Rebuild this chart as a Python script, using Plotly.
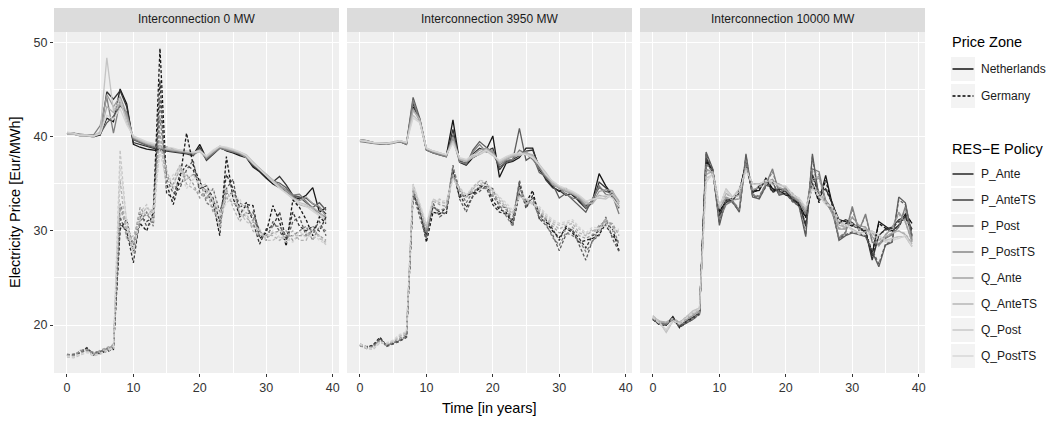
import plotly.graph_objects as go

# ---------------------------------------------------------------- data
years = list(range(0, 40))

facets = ["Interconnection 0 MW", "Interconnection 3950 MW", "Interconnection 10000 MW"]
zones = ["Netherlands", "Germany"]
policies = ["P_Ante", "P_AnteTS", "P_Post", "P_PostTS", "Q_Ante", "Q_AnteTS", "Q_Post", "Q_PostTS"]

# Interconnection 0 MW - Netherlands
nl0_p_ante = [40.4,40.4,40.2,40.2,40.1,40.2,42.0,41.6,45.1,43.5,39.2,38.9,38.7,38.6,38.5,38.9,38.7,38.5,38.3,38.1,39.2,37.7,38.3,38.9,38.5,38.3,38.0,37.8,36.8,36.3,35.6,35.0,34.6,34.2,33.6,33.4,33.8,34.6,32.0,32.5]
nl0_p_antets = [40.3,40.3,40.1,40.1,40.0,40.2,44.8,44.0,44.9,43.2,39.4,39.2,39.0,38.8,38.6,38.5,38.4,38.3,38.2,38.0,38.9,37.5,38.2,38.8,38.6,38.4,38.1,37.9,36.9,36.4,35.7,35.2,35.8,34.9,33.8,33.6,33.5,32.9,32.5,31.8]
nl0_p_post = [40.4,40.3,40.2,40.1,40.1,40.3,41.5,42.2,43.3,42.6,39.7,39.4,39.1,38.9,38.7,38.6,38.5,38.4,38.3,38.2,38.7,37.6,38.3,38.9,38.7,38.5,38.2,37.9,37.0,36.5,35.9,35.3,35.1,34.6,33.7,33.6,33.0,32.5,33.0,32.2]
nl0_p_postts = [40.4,40.4,40.3,40.2,40.2,41.2,44.2,40.4,43.8,42.1,39.8,39.5,39.2,39.0,38.8,38.6,38.5,38.4,38.3,38.1,38.5,37.7,38.3,38.8,38.6,38.4,38.2,37.8,37.1,36.6,36.0,35.4,34.8,34.4,33.8,33.9,33.2,32.4,31.9,31.4]
nl0_q_ante = [40.4,40.4,40.2,40.2,40.1,40.5,44.5,43.2,44.3,42.4,39.9,39.6,39.3,39.1,38.9,38.7,38.6,38.5,38.4,38.3,38.5,37.8,38.4,38.9,38.7,38.5,38.3,37.8,37.2,36.5,35.9,35.3,34.9,34.3,33.6,33.2,33.6,32.9,32.6,31.5]
nl0_q_antets = [40.4,40.3,40.1,40.1,40.0,40.4,43.2,42.6,43.6,42.0,40.0,39.6,39.3,39.1,38.9,38.7,38.6,38.5,38.4,38.3,38.6,37.9,38.5,39.0,38.8,38.6,38.3,38.0,37.3,36.7,36.0,35.3,34.7,34.1,33.5,32.8,32.6,32.5,32.0,31.2]
nl0_q_post = [40.3,40.3,40.1,40.1,40.0,40.6,48.4,42.8,44.0,41.5,40.0,39.7,39.4,39.2,39.0,38.8,38.7,38.6,38.5,38.3,38.4,37.9,38.5,39.0,38.8,38.6,38.4,38.1,37.3,36.6,36.0,35.4,34.6,34.0,33.5,33.0,32.8,32.3,31.7,31.0]
nl0_q_postts = [40.5,40.4,40.2,40.2,40.1,40.3,42.3,41.9,43.0,41.3,40.1,39.8,39.5,39.3,39.1,38.9,38.8,38.6,38.5,38.4,38.5,38.0,38.6,39.0,38.9,38.7,38.4,38.0,37.2,36.5,35.9,35.2,34.5,34.0,33.4,32.9,32.6,32.1,31.6,31.3]

# Interconnection 0 MW - Germany
de0_p_ante = [16.8,16.8,17.2,17.5,16.9,17.0,17.2,17.4,30.2,31.2,27.8,30.8,30.0,32.0,49.4,35.0,32.8,35.5,40.4,37.0,35.2,34.0,33.0,29.5,37.9,33.5,31.7,32.8,32.7,29.2,29.8,32.7,31.0,28.4,33.3,32.5,31.2,29.5,31.5,30.8]
de0_p_antets = [16.7,16.8,17.1,17.6,16.8,17.1,17.3,17.6,30.8,30.0,26.6,31.5,31.0,31.5,46.0,34.0,33.5,36.0,37.0,36.5,34.5,34.8,33.5,31.0,36.0,34.5,32.5,33.0,31.0,28.6,30.2,30.5,32.0,29.0,32.0,30.5,30.0,30.5,30.0,31.5]
de0_p_post = [16.8,16.9,17.0,17.4,17.0,17.2,17.4,17.8,31.5,29.5,28.0,32.0,30.5,31.0,44.0,35.5,34.0,34.5,36.5,37.5,34.0,33.5,34.5,32.0,34.5,35.5,31.5,31.8,32.0,30.0,29.0,31.0,30.0,28.8,31.0,31.5,29.5,30.0,31.0,29.5]
de0_p_postts = [16.9,16.8,17.2,17.3,17.1,17.2,17.5,17.7,32.9,30.8,28.5,31.0,32.0,30.5,42.0,36.0,34.5,35.0,35.5,36.0,35.5,33.0,32.5,30.5,34.0,34.0,33.0,32.5,31.5,29.5,29.5,30.5,30.5,29.5,29.5,30.0,30.5,29.0,30.5,30.0]
de0_q_ante = [16.8,16.7,17.3,17.4,16.9,17.3,17.6,17.9,32.5,30.2,28.8,32.5,31.5,32.5,40.5,34.5,35.0,36.5,36.0,35.0,33.5,34.5,32.0,31.5,33.5,33.0,32.5,31.5,30.5,30.0,29.2,29.8,30.0,30.0,29.0,29.5,29.5,30.0,29.5,29.0]
de0_q_antets = [16.7,16.6,16.9,17.2,16.8,17.0,17.4,17.7,35.5,29.0,29.5,31.5,32.5,31.8,39.5,35.5,35.5,37.0,35.0,34.5,34.0,33.5,33.5,30.0,34.5,32.5,31.0,32.0,30.0,29.5,29.6,29.5,29.0,29.5,30.0,29.0,29.0,30.5,29.2,28.8]
de0_q_post = [16.6,16.5,16.8,17.1,16.7,16.9,17.2,17.5,38.6,30.5,27.5,32.0,32.8,31.0,39.0,36.5,34.5,37.0,35.5,36.0,34.8,35.0,33.0,32.0,33.5,34.0,32.0,31.0,30.5,30.2,29.0,29.0,29.5,28.8,29.5,29.5,29.8,29.2,29.5,28.5]
de0_q_postts = [16.7,16.6,16.9,17.1,16.8,17.0,17.3,17.6,37.0,31.0,28.0,31.0,32.5,32.0,38.5,35.0,36.0,36.5,34.5,35.5,35.0,34.0,34.5,31.5,33.0,33.5,33.5,31.5,31.0,29.8,29.3,30.0,29.3,29.2,28.8,30.0,29.2,29.8,29.0,28.6]

# Interconnection 3950 MW - Netherlands
nl1_p_ante = [39.7,39.6,39.4,39.3,39.3,39.4,39.5,39.2,43.2,41.9,38.7,38.4,38.2,38.0,41.8,37.3,37.0,37.8,38.2,38.6,40.1,35.7,37.2,37.4,37.8,38.8,38.8,36.5,35.6,34.7,34.2,34.5,33.8,33.2,32.6,33.2,36.1,34.8,33.8,33.1]
nl1_p_antets = [39.6,39.5,39.3,39.3,39.2,39.4,39.5,39.3,43.6,41.8,38.6,38.3,38.1,37.9,40.8,37.4,37.2,38.2,38.8,38.5,38.8,36.5,37.4,37.6,38.0,38.5,38.6,36.8,35.4,34.6,34.3,33.8,34.0,33.1,32.4,33.0,35.2,34.6,33.6,32.6]
nl1_p_post = [39.6,39.5,39.4,39.3,39.3,39.4,39.6,39.3,44.2,42.0,38.7,38.4,38.2,38.0,40.2,37.5,37.0,38.6,39.5,38.9,38.3,36.8,37.3,37.5,40.9,37.5,38.0,36.2,35.8,35.0,33.5,34.0,33.3,32.7,32.0,33.4,34.6,34.2,34.0,32.4]
nl1_p_postts = [39.5,39.4,39.3,39.2,39.2,39.3,39.5,39.2,43.9,41.6,38.6,38.3,38.1,37.9,39.8,37.3,37.2,38.4,39.2,38.4,38.5,37.0,37.5,37.6,38.6,38.2,37.6,36.6,35.7,34.9,34.6,33.9,33.5,33.4,32.5,33.3,34.8,33.9,33.8,31.8]
nl1_q_ante = [39.6,39.5,39.3,39.3,39.2,39.4,39.5,39.3,43.0,41.7,38.7,38.4,38.2,38.0,40.0,37.6,37.4,38.0,38.6,38.8,38.4,37.2,37.6,37.9,38.2,38.4,37.9,36.9,35.9,35.1,34.5,34.2,33.9,33.5,32.8,33.0,34.2,34.4,34.3,32.9]
nl1_q_antets = [39.6,39.5,39.4,39.3,39.3,39.4,39.6,39.4,42.8,41.9,38.8,38.5,38.3,38.1,39.6,37.6,37.4,37.8,38.3,38.7,38.2,37.3,37.7,38.0,38.0,38.3,38.1,37.0,36.0,35.0,34.6,34.3,34.0,33.6,33.0,32.9,33.8,33.6,34.2,33.2]
nl1_q_post = [39.7,39.6,39.4,39.4,39.3,39.5,39.6,39.4,42.3,41.6,38.8,38.5,38.3,38.1,39.5,37.7,37.5,37.9,38.1,38.5,38.0,37.4,37.8,38.1,38.1,38.2,37.9,37.1,36.2,35.2,34.7,34.4,34.1,33.7,33.1,33.4,33.5,33.4,33.9,33.0]
nl1_q_postts = [39.6,39.5,39.4,39.3,39.3,39.4,39.6,39.4,42.0,41.5,38.8,38.5,38.3,38.1,39.3,37.8,37.6,38.1,38.2,38.6,38.1,37.5,37.9,38.2,38.3,38.1,37.8,37.0,36.0,35.3,34.8,34.5,34.2,33.8,33.2,33.3,33.6,33.8,33.5,32.6]

# Interconnection 3950 MW - Germany
de1_p_ante = [17.9,17.6,17.9,18.7,17.8,18.0,18.3,18.7,33.8,32.5,28.8,32.0,31.8,32.5,36.2,33.6,33.8,34.0,34.5,35.2,33.2,32.3,32.0,30.6,34.0,33.0,34.3,31.3,31.0,30.0,29.3,30.3,29.8,28.8,29.0,29.2,29.6,30.8,30.2,27.9]
de1_p_antets = [17.8,17.7,17.8,18.5,17.9,18.1,18.4,18.8,34.2,32.0,29.5,32.6,32.0,31.8,36.5,34.0,32.5,33.6,34.8,34.7,32.8,32.0,31.8,31.2,35.0,32.4,33.8,31.8,31.2,30.2,29.0,30.5,30.0,29.2,28.2,29.5,30.0,30.6,29.5,28.8]
de1_p_post = [17.9,17.6,17.8,18.6,17.7,18.0,18.3,18.7,34.0,31.5,29.2,33.0,31.5,32.0,37.0,33.4,32.0,33.8,34.2,34.8,34.5,32.5,32.5,30.8,35.4,32.6,33.5,31.3,30.6,29.6,27.9,29.6,30.2,28.5,26.9,29.0,29.5,31.5,29.2,27.8]
de1_p_postts = [17.8,17.5,17.7,18.4,17.8,18.1,18.4,18.8,34.3,32.2,29.8,32.5,32.2,32.4,36.8,34.4,33.0,34.2,34.6,34.5,33.6,32.8,31.6,30.5,34.6,33.2,33.0,31.6,30.8,29.3,28.5,29.8,29.5,29.0,27.8,28.8,30.4,31.2,30.6,28.5]
de1_q_ante = [18.0,17.7,17.6,18.3,17.9,18.2,18.6,19.0,34.5,32.7,30.0,33.2,32.8,32.6,36.0,34.5,33.5,34.5,35.0,34.6,33.8,33.0,32.2,31.5,34.2,32.8,33.2,32.0,31.2,30.5,29.8,30.0,30.4,29.5,29.2,29.6,30.6,31.0,30.8,29.5]
de1_q_antets = [18.0,17.6,17.5,18.2,18.0,18.3,18.8,19.2,34.8,32.4,30.3,33.4,33.0,33.0,35.8,34.2,33.6,34.7,35.3,35.0,34.0,33.3,32.6,31.8,33.8,33.0,33.0,32.2,31.4,30.8,30.2,30.6,30.8,29.8,29.5,30.0,30.2,31.3,30.4,29.8]
de1_q_post = [17.9,17.5,17.4,18.1,18.0,18.3,18.9,19.3,35.0,32.8,30.6,33.0,33.4,32.8,35.6,34.6,33.8,34.4,35.4,35.2,34.2,33.5,32.8,32.0,33.6,33.4,32.8,32.4,31.6,31.0,30.6,30.8,31.0,30.2,29.6,30.2,30.0,30.8,30.0,30.0]
de1_q_postts = [18.0,17.6,17.5,18.2,18.1,18.4,19.0,19.3,34.9,33.0,30.8,33.3,33.2,33.2,35.5,34.4,33.9,34.6,35.1,34.9,34.4,33.6,33.0,32.2,33.5,33.6,32.9,32.6,31.8,31.2,30.8,31.0,31.2,30.4,29.8,30.4,30.3,30.5,30.1,30.2]

# Interconnection 10000 MW - Netherlands
nl2_p_ante = [20.6,20.1,20.0,20.9,19.8,20.3,20.7,21.3,37.5,36.5,32.0,33.2,33.5,34.3,37.0,34.2,34.3,35.6,34.5,34.3,33.8,33.6,32.8,31.5,35.0,33.2,35.9,32.8,31.2,31.0,30.6,30.4,29.8,27.5,31.0,30.5,30.0,30.6,31.8,30.8]
nl2_p_antets = [20.7,20.2,20.1,20.8,19.9,20.4,20.8,21.3,37.8,36.3,31.6,33.0,33.4,34.1,37.3,34.0,34.8,35.4,34.2,34.5,34.2,33.4,33.0,30.5,36.0,34.0,34.5,33.0,30.8,31.2,30.9,30.2,30.0,26.9,29.5,30.2,30.4,31.2,31.5,30.2]
nl2_p_post = [20.6,20.2,20.0,20.7,19.8,20.2,20.6,21.2,38.4,36.6,30.6,33.4,33.1,32.0,38.2,33.6,33.4,34.8,35.2,33.8,34.0,33.2,32.6,29.4,38.2,33.5,33.2,32.4,29.0,29.5,29.8,29.6,29.4,27.8,26.2,28.5,28.8,33.6,33.0,29.4]
nl2_p_postts = [20.7,20.1,20.1,20.6,20.0,20.3,20.7,21.3,37.2,36.4,31.2,32.8,33.2,32.2,37.6,33.8,33.6,35.0,36.6,34.0,34.6,33.5,33.2,31.8,36.6,36.3,33.0,32.0,29.2,29.8,32.6,30.0,31.8,28.8,28.5,29.2,29.6,30.4,32.6,29.0]
nl2_q_ante = [20.8,20.3,20.2,20.6,20.2,20.6,21.0,21.5,36.6,36.2,32.4,33.6,33.3,33.4,37.0,34.4,34.6,35.2,35.5,34.6,34.4,33.8,33.1,32.2,35.5,35.8,33.3,31.8,30.2,30.2,31.5,30.6,30.4,29.4,28.4,29.6,30.3,32.0,31.0,28.8]
nl2_q_antets = [20.9,20.4,20.3,20.7,20.3,20.8,21.2,21.6,36.0,36.4,32.7,34.0,33.6,33.8,36.8,35.0,35.0,35.0,35.2,35.0,34.6,34.0,33.3,32.3,34.8,34.2,33.1,32.2,30.6,30.4,30.8,30.2,30.2,29.8,29.0,29.4,29.8,30.0,29.6,28.6]
nl2_q_post = [21.0,20.3,19.2,20.4,20.2,20.9,21.5,21.8,35.6,36.0,32.5,34.5,33.6,34.5,36.6,35.0,35.0,35.3,35.0,34.9,34.7,33.9,33.4,32.4,34.6,33.6,33.0,32.5,31.0,30.6,30.2,29.8,29.9,30.0,29.5,29.0,29.2,29.4,29.4,28.3]
nl2_q_postts = [20.8,20.2,19.5,20.5,20.1,20.7,21.3,21.7,35.2,36.1,32.6,34.3,33.5,34.2,36.4,35.0,34.9,35.4,35.3,34.8,34.8,33.8,33.5,32.5,34.5,33.8,32.8,32.6,31.1,30.8,30.0,29.7,29.6,29.9,29.6,28.8,29.0,29.2,29.5,28.4]

# Interconnection 10000 MW - Germany
de2_p_ante = [20.6,20.0,20.0,20.8,19.7,20.3,20.7,21.2,37.4,36.4,32.1,33.1,33.4,34.2,37.1,34.1,34.4,35.5,34.4,34.2,33.9,33.5,32.7,31.4,35.1,33.0,35.4,32.7,31.1,30.8,30.5,30.3,29.9,27.7,30.8,30.3,29.9,30.5,31.6,30.9]
de2_p_antets = [20.7,20.1,20.1,20.7,19.8,20.4,20.8,21.2,37.7,36.2,31.7,33.1,33.3,34.0,37.2,34.1,34.7,35.3,34.1,34.4,34.1,33.3,32.9,30.7,35.8,33.8,34.4,32.9,30.9,31.1,30.8,30.3,30.1,27.2,29.6,30.1,30.3,31.0,31.4,30.0]
de2_p_post = [20.6,20.1,20.0,20.6,19.8,20.2,20.6,21.1,38.2,36.5,30.8,33.3,33.0,32.1,38.0,33.7,33.5,34.7,35.1,33.9,34.0,33.1,32.7,29.6,37.9,33.4,33.1,32.3,29.2,29.6,29.9,29.7,29.5,28.0,26.5,28.6,28.9,33.3,32.8,29.5]
de2_p_postts = [20.7,20.1,20.1,20.6,20.0,20.3,20.7,21.2,37.1,36.3,31.3,32.9,33.2,32.3,37.5,33.9,33.7,35.0,36.3,34.1,34.5,33.5,33.1,31.7,36.4,36.0,33.0,32.1,29.3,29.9,32.3,30.1,31.6,28.9,28.6,29.3,29.7,30.5,32.4,29.1]
de2_q_ante = [20.8,20.3,20.2,20.6,20.2,20.6,21.0,21.4,36.5,36.1,32.4,33.5,33.3,33.4,36.9,34.4,34.6,35.2,35.4,34.6,34.3,33.8,33.1,32.2,35.3,35.6,33.2,31.9,30.3,30.3,31.4,30.6,30.4,29.5,28.6,29.6,30.3,31.8,30.9,28.9]
de2_q_antets = [20.9,20.4,20.3,20.7,20.3,20.8,21.2,21.6,36.0,36.3,32.7,33.9,33.6,33.8,36.7,35.0,35.0,35.0,35.2,34.9,34.6,34.0,33.3,32.3,34.7,34.1,33.1,32.3,30.7,30.5,30.8,30.2,30.2,29.8,29.1,29.4,29.8,30.0,29.7,28.7]
de2_q_post = [21.0,20.3,19.3,20.4,20.2,20.9,21.4,21.8,35.6,36.0,32.5,34.4,33.6,34.4,36.5,35.0,35.0,35.3,35.0,34.9,34.7,33.9,33.4,32.4,34.6,33.6,33.0,32.5,31.0,30.6,30.2,29.8,29.9,30.0,29.5,29.0,29.2,29.4,29.4,28.4]
de2_q_postts = [20.8,20.2,19.5,20.5,20.1,20.7,21.3,21.7,35.2,36.1,32.6,34.3,33.5,34.2,36.4,35.0,34.9,35.4,35.3,34.8,34.8,33.8,33.5,32.5,34.5,33.8,32.8,32.6,31.1,30.8,30.0,29.7,29.6,29.9,29.6,28.8,29.0,29.2,29.5,28.4]

series = {
    (0, "Netherlands"): [nl0_p_ante, nl0_p_antets, nl0_p_post, nl0_p_postts, nl0_q_ante, nl0_q_antets, nl0_q_post, nl0_q_postts],
    (0, "Germany"): [de0_p_ante, de0_p_antets, de0_p_post, de0_p_postts, de0_q_ante, de0_q_antets, de0_q_post, de0_q_postts],
    (1, "Netherlands"): [nl1_p_ante, nl1_p_antets, nl1_p_post, nl1_p_postts, nl1_q_ante, nl1_q_antets, nl1_q_post, nl1_q_postts],
    (1, "Germany"): [de1_p_ante, de1_p_antets, de1_p_post, de1_p_postts, de1_q_ante, de1_q_antets, de1_q_post, de1_q_postts],
    (2, "Netherlands"): [nl2_p_ante, nl2_p_antets, nl2_p_post, nl2_p_postts, nl2_q_ante, nl2_q_antets, nl2_q_post, nl2_q_postts],
    (2, "Germany"): [de2_p_ante, de2_p_antets, de2_p_post, de2_p_postts, de2_q_ante, de2_q_antets, de2_q_post, de2_q_postts],
}

# ---------------------------------------------------------------- style
# the html page keeps the browser's 8px body margin, so the figure is drawn
# 8px smaller and every position below is given in window pixels
OFF = 8
W, H = 1062 - OFF, 421 - OFF
colors = ["#161616", "#333333", "#5c5c5c", "#7e7e7e", "#9c9c9c", "#b1b1b1", "#c4c4c4", "#d4d4d4"]
dashes = {"Netherlands": "solid", "Germany": "3px,2px"}
panel_bg = "#EFEFEF"
strip_bg = "#DCDCDC"
key_bg = "#F3F3F3"
font = "Liberation Sans, Arial, Helvetica, sans-serif"

panels_px = [(54, 339), (347, 632), (640, 925)]
top_px, bottom_px = 32, 373


def fx(p):
    return (p - OFF) / W


def fy(p):
    return 1 - (p - OFF) / H


fig = go.Figure()

for i in range(3):
    for zone in zones:
        for k, pol in enumerate(policies):
            fig.add_trace(go.Scatter(
                x=years, y=series[(i, zone)][k],
                mode="lines",
                line=dict(color=colors[k], width=1.3, dash=dashes[zone]),
                name=f"{pol} {zone}",
                showlegend=False,
                xaxis="x" if i == 0 else f"x{i+1}",
                yaxis="y" if i == 0 else f"y{i+1}",
            ))

layout = dict(
    width=W, height=H,
    margin=dict(l=0, r=0, t=0, b=0),
    paper_bgcolor="white",
    plot_bgcolor=panel_bg,
    font=dict(family=font, color="#1a1a1a"),
    showlegend=False,
)

shapes = []
annotations = []
for i, (x0, x1) in enumerate(panels_px):
    sfx = "" if i == 0 else str(i + 1)
    layout["xaxis" + sfx] = dict(
        domain=[fx(x0), fx(x1)], anchor="y" + sfx, range=[-1.95, 40.95],
        tickvals=[0, 10, 20, 30, 40], ticks="outside", ticklen=3, tickcolor="#333333",
        tickfont=dict(size=12.5, color="#333333"), showgrid=True, gridcolor="white", gridwidth=1.1,
        minor=dict(dtick=5, tick0=0, showgrid=True, gridcolor="white", gridwidth=0.5),
        zeroline=False, showline=False, fixedrange=True,
    )
    layout["yaxis" + sfx] = dict(
        domain=[fy(bottom_px), fy(top_px)], anchor="x" + sfx, range=[14.9, 51.15],
        tickvals=[20, 30, 40, 50], ticks="outside" if i == 0 else "", ticklen=3, tickcolor="#333333",
        showticklabels=(i == 0), tickfont=dict(size=12.5, color="#333333"),
        showgrid=True, gridcolor="white", gridwidth=1.1,
        minor=dict(dtick=5, tick0=0, showgrid=True, gridcolor="white", gridwidth=0.5),
        zeroline=False, showline=False, fixedrange=True,
    )
    # facet strip
    shapes.append(dict(type="rect", xref="paper", yref="paper", x0=fx(x0), x1=fx(x1),
                       y0=fy(top_px), y1=fy(5), fillcolor=strip_bg, line=dict(width=0), layer="below"))
    annotations.append(dict(text=facets[i], xref="paper", yref="paper", x=fx((x0 + x1) / 2), y=fy(18.5),
                            showarrow=False, font=dict(size=12, color="#1a1a1a"), xanchor="center", yanchor="middle"))

# axis titles
annotations.append(dict(text="Time [in years]", xref="paper", yref="paper", x=fx(489.5), y=fy(408),
                        showarrow=False, font=dict(size=14.5, color="#000000"), xanchor="center", yanchor="middle"))
annotations.append(dict(text="Electricity Price [Eur/MWh]", xref="paper", yref="paper", x=fx(15), y=fy(202),
                        showarrow=False, textangle=-90, font=dict(size=14.5, color="#000000"),
                        xanchor="center", yanchor="middle"))

# legends (drawn ggplot-style: keys on grey boxes)
key_x0, key_x1 = 951, 975
line_x0, line_x1 = 952.5, 973.5
text_x = 979


def legend_title(text, yc):
    annotations.append(dict(text=text, xref="paper", yref="paper", x=fx(key_x0 - 1), y=fy(yc),
                            showarrow=False, font=dict(size=14.5, color="#000000"),
                            xanchor="left", yanchor="middle"))


def legend_item(text, yc, color, dash):
    shapes.append(dict(type="rect", xref="paper", yref="paper", x0=fx(key_x0), x1=fx(key_x1),
                       y0=fy(yc + 12), y1=fy(yc - 12), fillcolor=key_bg, line=dict(width=0)))
    shapes.append(dict(type="line", xref="paper", yref="paper", x0=fx(line_x0), x1=fx(line_x1),
                       y0=fy(yc), y1=fy(yc), line=dict(color=color, width=1.4, dash=dash)))
    annotations.append(dict(text=text, xref="paper", yref="paper", x=fx(text_x), y=fy(yc),
                            showarrow=False, font=dict(size=12, color="#1a1a1a"),
                            xanchor="left", yanchor="middle"))


legend_title("Price Zone", 42)
legend_item("Netherlands", 69, "#000000", dashes["Netherlands"])
legend_item("Germany", 96, "#000000", dashes["Germany"])

legend_title("RES\u2212E Policy", 149)
for k, pol in enumerate(policies):
    legend_item(pol, 174 + 26 * k, colors[k], "solid")

layout["shapes"] = shapes
layout["annotations"] = annotations
fig.update_layout(**layout)

fig.write_html("out.html")
